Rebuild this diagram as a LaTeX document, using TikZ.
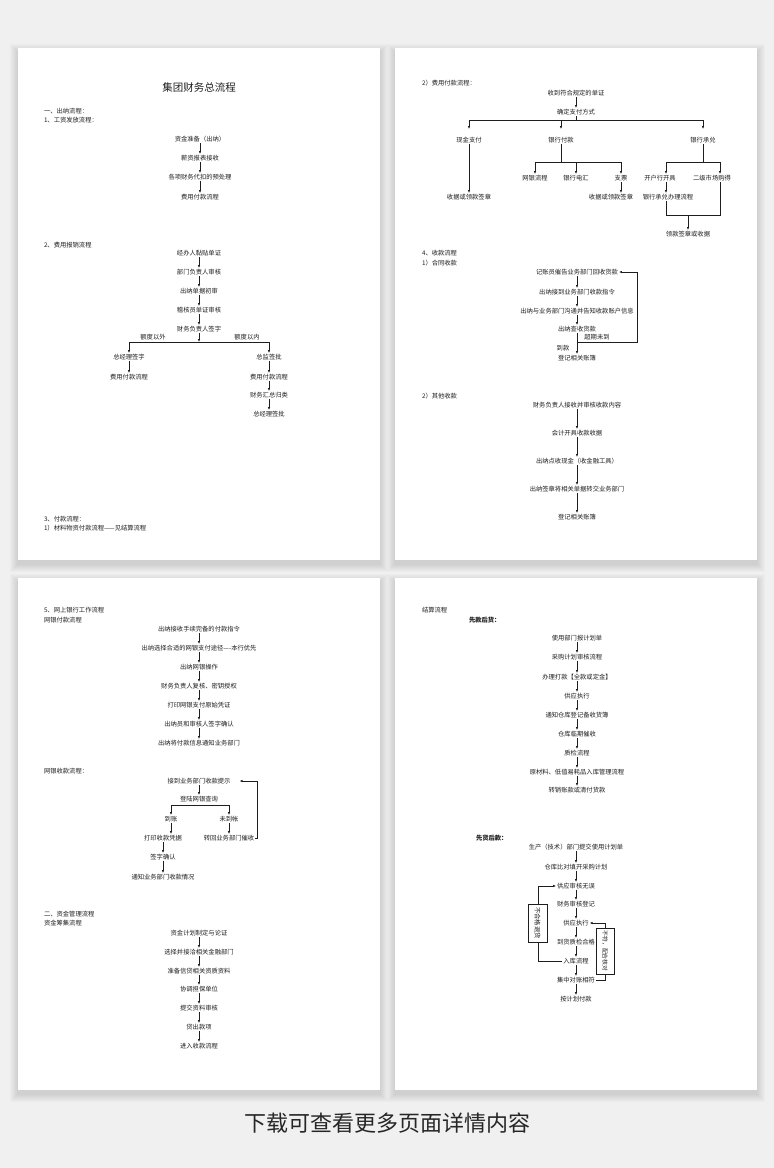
\documentclass[tikz,border=0pt]{standalone}
\usepackage{fontspec}
\setmainfont{Noto Sans CJK SC}
\usetikzlibrary{arrows.meta}
\definecolor{bgray}{HTML}{F0F0F0}
\definecolor{ink}{HTML}{1E1E1E}
\tikzset{
	flow/.style={font=\fontsize{6.3}{7}\selectfont, inner sep=0.8pt, text=ink},
	head/.style={flow, anchor=west},
	arr/.style={draw=ink, line width=0.7pt, -{Latex[length=3pt,width=2.4pt]}},
	lnk/.style={draw=ink, line width=0.7pt},
	vbox/.style={flow, draw=ink, line width=0.7pt, fill=white, rotate=-90},
}
\begin{document}
\begin{tikzpicture}[x=1pt,y=-1pt]
		\useasboundingbox (0,0) rectangle (774,1168);
		\fill[bgray] (0,0) rectangle (774,1168);
		\foreach \px/\py in {18/48,395/48,18/578,395/578}{
			\foreach \i in {1,...,8}
				\fill[black,opacity=0.016] (\px-\i,\py-\i+4) rectangle (\px+362+\i,\py+512+\i+4);
			\fill[white] (\px,\py) rectangle (\px+362,\py+512);
		}

		\node[flow,font=\fontsize{10.5}{12}\selectfont] (ttl) at (199,87) {集团财务总流程};
		\node[head] (s1) at (43,111) {一、出纳流程：};
		\node[head] (s1a) at (43,120) {1、工资发放流程：};
		\node[flow] (a1) at (200,139) {资金准备（出纳）};
		\node[flow] (a2) at (200,158) {薪资报表接收};
		\node[flow] (a3) at (200,177) {各项财务代扣的预处理};
		\node[flow] (a4) at (200,197) {费用付款流程};
		\draw[arr] (a1) -- (a2);
		\draw[arr] (a2) -- (a3);
		\draw[arr] (a3) -- (a4);

		\node[head] (s2) at (43,245) {2、费用报销流程};
		\node[flow] (b1) at (199,253) {经办人黏贴单证};
		\node[flow] (b2) at (199,272) {部门负责人审核};
		\node[flow] (b3) at (199,291) {出纳单据初审};
		\node[flow] (b4) at (199,310) {稽核员单证审核};
		\node[flow] (b5) at (199,329) {财务负责人签字};
		\draw[arr] (b1) -- (b2);
		\draw[arr] (b2) -- (b3);
		\draw[arr] (b3) -- (b4);
		\draw[arr] (b4) -- (b5);
		\coordinate (bj) at (199,342);
		\coordinate (bl) at (129,342);
		\coordinate (br) at (269,342);
		\draw[arr] (b5) -- (bj);
		\draw[lnk] (bl) -- (br);
		\node[flow] (bq1) at (153,337) {额度以外};
		\node[flow] (bq2) at (247,337) {额度以内};
		\node[flow] (bL1) at (129,357) {总经理签字};
		\node[flow] (bL2) at (129,377) {费用付款流程};
		\node[flow] (bR1) at (269,357) {总监签批};
		\node[flow] (bR2) at (269,377) {费用付款流程};
		\node[flow] (bR3) at (269,395) {财务汇总归类};
		\node[flow] (bR4) at (269,414) {总经理签批};
		\draw[arr] (bl) -- (bL1);
		\draw[arr] (bL1) -- (bL2);
		\draw[arr] (br) -- (bR1);
		\draw[arr] (bR1) -- (bR2);
		\draw[arr] (bR2) -- (bR3);
		\draw[arr] (bR3) -- (bR4);

		\node[head] (s3) at (43,519) {3、付款流程：};
		\node[head] (s3a) at (43,528) {1）材料物资付款流程——见结算流程};

		\node[head] (s4) at (421,83) {2）费用付款流程：};
		\node[flow] (c1) at (576,93) {收到符合规定的单证};
		\node[flow] (c2) at (576,112) {确定支付方式};
		\draw[arr] (c1) -- (c2);
		\coordinate (cL) at (469,120);
		\coordinate (cR) at (703,120);
		\draw[lnk] (c2) -- (c2 |- cL);
		\draw[lnk] (cL) -- (cR);
		\node[flow] (m1) at (469,140) {现金支付};
		\node[flow] (m2) at (561,140) {银行付款};
		\node[flow] (m3) at (703,140) {银行承兑};
		\draw[arr,shorten >=7pt] (cL) -- (m1);
		\draw[arr,shorten >=7pt] (m2 |- cL) -- (m2);
		\draw[arr,shorten >=7pt] (cR) -- (m3);
		\node[flow] (n1) at (469,197) {收据或领款签章};
		\draw[arr] (m1) -- (n1);
		\coordinate (mL) at (535,162);
		\coordinate (mR) at (621,162);
		\draw[lnk] (m2) -- (m2 |- mL);
		\draw[lnk] (mL) -- (mR);
		\node[flow] (p1) at (535,178) {网银流程};
		\node[flow] (p2) at (576,178) {银行电汇};
		\node[flow] (p3) at (621,178) {支票};
		\draw[arr] (mL) -- (p1);
		\draw[arr] (p2 |- mL) -- (p2);
		\draw[arr] (mR) -- (p3);
		\node[flow] (q3) at (611,197) {收据或领款签章};
		\draw[arr] (p3) -- (p3 |- q3.north);
		\coordinate (oL) at (666,162);
		\coordinate (oR) at (720,162);
		\draw[lnk] (m3) -- (m3 |- oL);
		\draw[lnk] (oL) -- (oR);
		\node[flow] (p4) at (660,178) {开户行开具};
		\node[flow] (p5) at (712,178) {二级市场购得};
		\draw[arr] (oL) -- (oL |- p4.north);
		\draw[arr] (oR) -- (oR |- p5.north);
		\node[flow] (q4) at (668,197) {银行承兑办理流程};
		\draw[arr] (oL |- p4.south) -- (oL |- q4.north);
		\coordinate (uL) at (666,215);
		\coordinate (uR) at (720,215);
		\draw[lnk] (oL |- q4.south) -- (uL) -- (uR) -- (oR |- p5.south);
		\node[flow] (r1) at (688,234) {领款签章或收据};
		\draw[arr] (r1 |- uL) -- (r1);

		\node[head] (s5) at (421,253) {4、收款流程};
		\node[head] (s5a) at (421,263) {1）合同收款};
		\node[flow] (d1) at (577,272) {记账员催告业务部门回收货款};
		\node[flow] (d2) at (577,292) {出纳接到业务部门收款指令};
		\node[flow] (d3) at (577,311) {出纳与业务部门沟通并告知收款账户信息};
		\node[flow] (d4) at (577,329) {出纳查收货款};
		\node[flow] (d5) at (577,358) {登记相关账簿};
		\draw[arr] (d1) -- (d2);
		\draw[arr] (d2) -- (d3);
		\draw[arr] (d3) -- (d4);
		\draw[arr] (d4) -- (d5);
		\coordinate (dk) at (577,342);
		\draw[arr] (dk) -- (637,342) |- (d1.east);
		\node[flow] (dq1) at (563,348) {到款};
		\node[flow] (dq2) at (597,337) {超期未到};

		\node[head] (s5b) at (421,396) {2）其他收款};
		\node[flow] (e1) at (577,405) {财务负责人接收并审核收款内容};
		\node[flow] (e2) at (577,433) {会计开具收款收据};
		\node[flow] (e3) at (577,461) {出纳点收现金（收金融工具）};
		\node[flow] (e4) at (577,489) {出纳签章将相关单据转交业务部门};
		\node[flow] (e5) at (577,517) {登记相关账簿};
		\draw[arr] (e1) -- (e2);
		\draw[arr] (e2) -- (e3);
		\draw[arr] (e3) -- (e4);
		\draw[arr] (e4) -- (e5);

		\node[head] (s6) at (43,610) {5、网上银行工作流程};
		\node[head] (s6a) at (43,620) {网银付款流程};
		\node[flow] (f1) at (199,629) {出纳接收手续完备的付款指令};
		\node[flow] (f2) at (199,648) {出纳选择合适的网银支付途径----本行优先};
		\node[flow] (f3) at (199,667) {出纳网银操作};
		\node[flow] (f4) at (199,686) {财务负责人复核、密钥授权};
		\node[flow] (f5) at (199,705) {打印网银支付原始凭证};
		\node[flow] (f6) at (199,724) {出纳员和审核人签字确认};
		\node[flow] (f7) at (199,743) {出纳将付款信息通知业务部门};
		\draw[arr] (f1) -- (f2);
		\draw[arr] (f2) -- (f3);
		\draw[arr] (f3) -- (f4);
		\draw[arr] (f4) -- (f5);
		\draw[arr] (f5) -- (f6);
		\draw[arr] (f6) -- (f7);

		\node[head] (s6b) at (43,771) {网银收款流程：};
		\node[flow] (g1) at (199,781) {接到业务部门收款提示};
		\node[flow] (g2) at (199,799) {登陆网银查询};
		\draw[arr] (g1) -- (g2);
		\coordinate (gL) at (171,805);
		\coordinate (gR) at (229,805);
		\draw[lnk] (gL) -- (gR);
		\node[flow] (g3) at (171,819) {到账};
		\node[flow] (g4) at (229,819) {未到帐};
		\draw[arr] (gL) -- (g3);
		\draw[arr] (gR) -- (g4);
		\node[flow] (g5) at (163,838) {打印收款凭据};
		\node[flow] (g6) at (229,838) {转回业务部门催收};
		\draw[arr] (g3) -- (g3 |- g5.north);
		\draw[arr] (g4) -- (g6);
		\node[flow] (g7) at (163,857) {签字确认};
		\node[flow] (g8) at (163,877) {通知业务部门收款情况};
		\draw[arr] (g5) -- (g7);
		\draw[arr] (g7) -- (g8);
		\coordinate (gk) at (257,838);
		\draw[arr,shorten >=8pt] (g6.east) -- (gk) |- (g1.east);

		\node[head] (s7) at (43,914) {二、资金管理流程};
		\node[head] (s7a) at (43,923) {资金筹集流程};
		\node[flow] (h1) at (199,933) {资金计划制定与论证};
		\node[flow] (h2) at (199,952) {选择并接洽相关金融部门};
		\node[flow] (h3) at (199,971) {准备信贷相关资质资料};
		\node[flow] (h4) at (199,989) {协调担保单位};
		\node[flow] (h5) at (199,1008) {提交资料审核};
		\node[flow] (h6) at (199,1027) {贷出款项};
		\node[flow] (h7) at (199,1046) {进入收款流程};
		\draw[arr] (h1) -- (h2);
		\draw[arr] (h2) -- (h3);
		\draw[arr] (h3) -- (h4);
		\draw[arr] (h4) -- (h5);
		\draw[arr] (h5) -- (h6);
		\draw[arr] (h6) -- (h7);

		\node[head] (s8) at (421,610) {结算流程};
		\node[head,font=\fontsize{6.3}{7}\selectfont\bfseries] (s8a) at (468,620) {先款后货：};
		\node[flow] (k1) at (577,638) {使用部门报计划单};
		\node[flow] (k2) at (577,657) {采购计划审核流程};
		\node[flow] (k3) at (577,677) {办理打款【全款或定金】};
		\node[flow] (k4) at (577,696) {供应执行};
		\node[flow] (k5) at (577,715) {通知仓库登记备收货簿};
		\node[flow] (k6) at (577,734) {仓库临期催收};
		\node[flow] (k7) at (577,753) {质检流程};
		\node[flow] (k8) at (577,772) {原材料、低值易耗品入库管理流程};
		\node[flow] (k9) at (577,790) {转销账款或清付货款};
		\draw[arr] (k1) -- (k2);
		\draw[arr] (k2) -- (k3);
		\draw[arr] (k3) -- (k4);
		\draw[arr] (k4) -- (k5);
		\draw[arr] (k5) -- (k6);
		\draw[arr] (k6) -- (k7);
		\draw[arr] (k7) -- (k8);
		\draw[arr] (k8) -- (k9);

		\node[head,font=\fontsize{6.3}{7}\selectfont\bfseries] (s8b) at (475,838) {先货后款：};
		\node[flow] (l1) at (576,847) {生产（技术）部门提交使用计划单};
		\node[flow] (l2) at (576,867) {仓库比对填开采购计划};
		\node[flow] (l3) at (576,886) {供应审核无误};
		\node[flow] (l4) at (576,904) {财务审核登记};
		\node[flow] (l5) at (576,923) {供应执行};
		\node[flow] (l6) at (576,942) {到货质检合格};
		\node[flow] (l7) at (576,961) {入库流程};
		\node[flow] (l8) at (576,980) {集中对账相符};
		\node[flow] (l9) at (576,999) {按计划付款};
		\draw[arr] (l1) -- (l2);
		\draw[arr] (l2) -- (l3);
		\draw[arr] (l3) -- (l4);
		\draw[arr] (l4) -- (l5);
		\draw[arr] (l5) -- (l6);
		\draw[arr] (l6) -- (l7);
		\draw[arr] (l7) -- (l8);
		\draw[arr] (l8) -- (l9);
		\draw[arr] (l7.west) -- (538,961) |- (l3.west);
		\draw[arr] (l8.east) -- (605,980) |- (l5.east);
		\node[vbox,minimum width=38pt,minimum height=19pt] (lb1) at (537.5,923) {不合格退货};
		\node[vbox,minimum width=46pt,minimum height=18pt,font=\fontsize{5.8}{6.5}\selectfont] (lb2) at (605,951) {不符，配合核对};

		\node[flow,font=\fontsize{22}{25}\selectfont,text=black!85] (foot) at (387,1123) {下载可查看更多页面详情内容};
	\end{tikzpicture}
\end{document}
